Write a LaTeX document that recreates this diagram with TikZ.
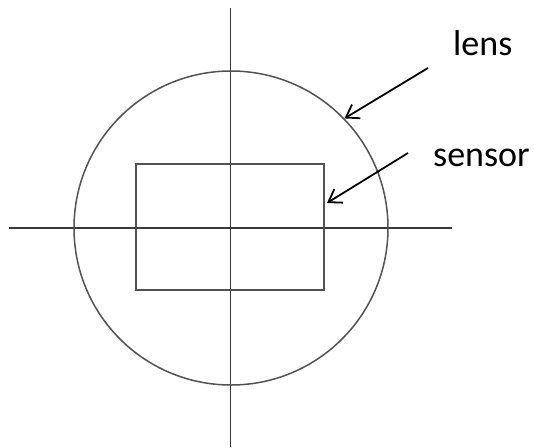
\documentclass[tikz,border=0pt]{standalone}
\usepackage{fontspec}
\setmainfont{Carlito}
\usetikzlibrary{arrows.meta}
\begin{document}
\begin{tikzpicture}[x=1pt,y=-1pt,
 axis/.style={line width=1.7pt, draw=black!78},
 outline/.style={line width=1.5pt, draw=black!68},
 pointer/.style={line width=1.8pt, -{Straight Barb[length=12pt,width=16pt]}},
 lbl/.style={font=\fontsize{36}{40}\selectfont, inner sep=0pt, anchor=base west}]
\useasboundingbox (0,0) rectangle (534,447);
\coordinate (vtop) at (230.5,8);
\coordinate (vbot) at (230.5,447);
\coordinate (hl) at (9,228);
\coordinate (hr) at (452,228);
\draw[axis] (vtop) -- (vbot);
\draw[axis] (hl) -- (hr);
\node[circle, outline, minimum size=314pt, inner sep=0pt] (lensc) at (231,228) {};
\node[rectangle, outline, minimum width=188pt, minimum height=126pt, inner sep=0pt] (sensorr) at (230,227) {};
\node[lbl] (lenst) at (453,55) {lens};
\node[lbl] (sensort) at (433,166) {sensor};
\coordinate (lensfrom) at (428,68);
\coordinate (sensorfrom) at (408,153);
\coordinate (sensortip) at (327,203);
\draw[pointer] (lensfrom) -- (lensc.44);
\draw[pointer] (sensorfrom) -- (sensortip);
\end{tikzpicture}
\end{document}
